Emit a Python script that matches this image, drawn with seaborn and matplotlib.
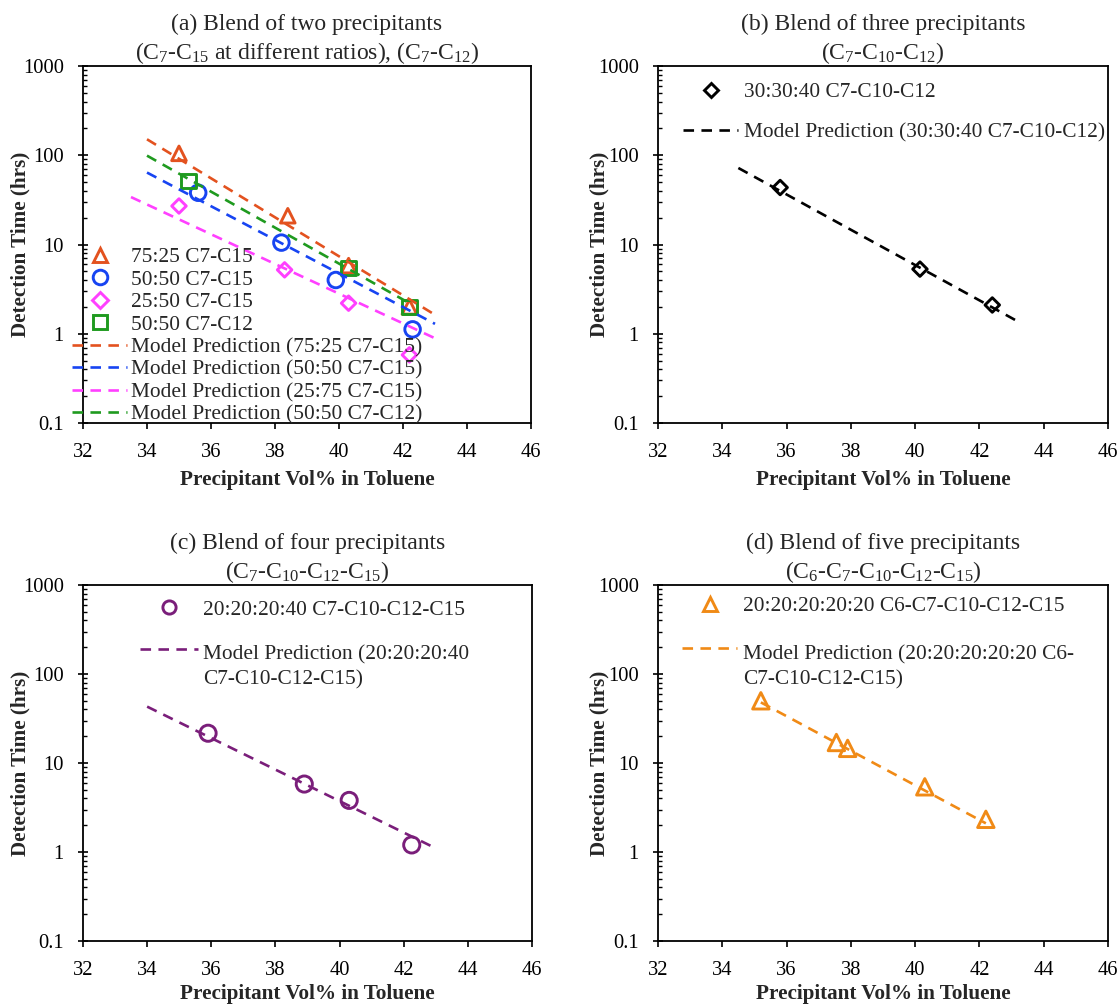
import numpy as np
import pandas as pd
import matplotlib
matplotlib.use("Agg")
import matplotlib.pyplot as plt
import seaborn as sns
from matplotlib.lines import Line2D
from matplotlib.ticker import FixedLocator, FuncFormatter, LogLocator, NullFormatter
from matplotlib.legend_handler import HandlerLine2D

# ---------------- data ----------------
# (a) two-precipitant blends
a_x_7525 = [35.0, 38.4, 40.3, 42.2]
a_y_7525 = [105, 21, 5.8, 2.0]
a_x_5050 = [35.6, 38.2, 39.9, 42.3]
a_y_5050 = [38, 10.5, 4.0, 1.12]
a_x_2575 = [35.0, 38.3, 40.3, 42.2]
a_y_2575 = [27, 5.2, 2.2, 0.58]
a_x_c12 = [35.3, 40.3, 42.2]
a_y_c12 = [51, 5.4, 2.0]

a_mx_7525 = [34.0, 43.0]
a_my_7525 = [151, 1.63]
a_mx_5050 = [34.0, 43.0]
a_my_5050 = [64, 1.29]
a_mx_2575 = [33.5, 43.0]
a_my_2575 = [34, 0.89]
a_mx_c12 = [34.0, 42.3]
a_my_c12 = [99, 2.1]

# (b) three-precipitant blend
b_x = [35.8, 40.15, 42.4]
b_y = [43.5, 5.3, 2.1]
b_mx = [34.5, 43.3]
b_my = [72, 1.31]

# (c) four-precipitant blend
c_x = [35.9, 38.9, 40.3, 42.25]
c_y = [21.6, 5.8, 3.8, 1.2]
c_mx = [34.0, 43.0]
c_my = [43, 1.1]

# (d) five-precipitant blend
d_x = [35.2, 37.55, 37.9, 40.3, 42.2]
d_y = [50, 17, 14.6, 5.4, 2.33]
d_mx = [35.2, 42.2]
d_my = [48, 2.1]

x_ticks = [32, 34, 36, 38, 40, 42, 44, 46]
y_ticks = [0.1, 1, 10, 100, 1000]

titles = [
    "(a) Blend of two precipitants\n(C$_{7}$-C$_{15}$ at different ratios), (C$_{7}$-C$_{12}$)",
    "(b) Blend of three precipitants\n(C$_{7}$-C$_{10}$-C$_{12}$)",
    "(c) Blend of four precipitants\n(C$_{7}$-C$_{10}$-C$_{12}$-C$_{15}$)",
    "(d) Blend of five precipitants\n(C$_{6}$-C$_{7}$-C$_{10}$-C$_{12}$-C$_{15}$)",
]

# ---------------- style ----------------
sns.set_style("ticks")
plt.rcParams["font.family"] = ["Liberation Serif", "DejaVu Serif"]
plt.rcParams["mathtext.fontset"] = "custom"
plt.rcParams["mathtext.rm"] = "Liberation Serif"
plt.rcParams["mathtext.it"] = "Liberation Serif:italic"
plt.rcParams["mathtext.default"] = "regular"

RED = "#E3521F"
BLUE = "#1744F2"
PINK = "#FF40FF"
GREEN = "#1F9A1F"
BLACK = "#000000"
PURPLE = "#7A1E7A"
ORANGE = "#F08A16"

FS = 15.4        # legend text
TFS = 14.8       # tick labels
DASH = (0, (4, 2.8))
LW = 1.9
MEW = 2.1

fig = plt.figure(figsize=(11.2, 10.06), dpi=100)
positions = [
    [83 / 1120, 1 - 423 / 1006, 448 / 1120, 357 / 1006],
    [658 / 1120, 1 - 423 / 1006, 450 / 1120, 357 / 1006],
    [83 / 1120, 1 - 941 / 1006, 449 / 1120, 356 / 1006],
    [658 / 1120, 1 - 941 / 1006, 450 / 1120, 356 / 1006],
]
axes = [fig.add_axes(p) for p in positions]


def points(ax, xs, ys, marker, color, size):
    df = pd.DataFrame({"x": xs, "y": ys})
    sns.scatterplot(data=df, x="x", y="y", ax=ax, marker=marker, s=size,
                    facecolors="none", edgecolors=color, linewidths=MEW,
                    legend=False, zorder=3)


def model(ax, xs, ys, color):
    df = pd.DataFrame({"x": xs, "y": ys})
    sns.lineplot(data=df, x="x", y="y", ax=ax, color=color, lw=LW,
                 linestyle=DASH, legend=False, zorder=4)


def style_axes(ax, title, ylab_x, xlab_pad):
    ax.set_yscale("log")
    ax.set_xlim(32, 46)
    ax.set_ylim(0.1, 1000)
    ax.xaxis.set_major_locator(FixedLocator(x_ticks))
    ax.yaxis.set_major_locator(FixedLocator(y_ticks))
    ax.yaxis.set_major_formatter(FuncFormatter(lambda v, _: f"{v:g}"))
    ax.yaxis.set_minor_locator(LogLocator(base=10, subs=np.arange(2, 10)))
    ax.yaxis.set_minor_formatter(NullFormatter())
    ax.xaxis.set_minor_locator(FixedLocator([]))
    ax.tick_params(axis="x", which="major", direction="out", length=4.5,
                   width=1.2, pad=10, labelsize=TFS, color="black",
                   labelcolor="black")
    ax.tick_params(axis="y", which="major", direction="inout", length=7.5,
                   width=1.2, pad=10, labelsize=TFS, color="black",
                   labelcolor="black")
    ax.tick_params(axis="y", which="minor", direction="in", length=3,
                   width=1.0, color="black")
    for s in ax.spines.values():
        s.set_visible(True)
        s.set_color("black")
        s.set_linewidth(1.3)
    ax.set_xlabel("Precipitant Vol% in Toluene", fontsize=15.25,
                  fontweight="bold", labelpad=xlab_pad)
    ax.set_ylabel("Detection Time (hrs)", fontsize=15.25, fontweight="bold")
    ax.yaxis.set_label_coords(ylab_x, 0.5)
    ax.set_title(title, fontsize=17, pad=4, linespacing=1.28)


class HandlerFirstLine(HandlerLine2D):
    """Line handle aligned with the first line of a two-line label."""

    def __init__(self, shift, **kw):
        super().__init__(**kw)
        self.shift = shift

    def create_artists(self, legend, orig_handle, xdescent, ydescent,
                       width, height, fontsize, trans):
        return super().create_artists(legend, orig_handle, xdescent,
                                      ydescent - 2 * self.shift * fontsize,
                                      width, height, fontsize, trans)


def mk(marker, color, ms):
    return Line2D([], [], marker=marker, ls="none", mfc="none", mec=color,
                  mew=MEW, ms=ms)


def ln(color):
    return Line2D([], [], color=color, lw=LW, ls=DASH)


# ---------------- (a) ----------------
ax = axes[0]
points(ax, a_x_7525, a_y_7525, "^", RED, 110)
points(ax, a_x_5050, a_y_5050, "o", BLUE, 125)
points(ax, a_x_2575, a_y_2575, "D", PINK, 55)
points(ax, a_x_c12, a_y_c12, "s", GREEN, 105)
model(ax, a_mx_7525, a_my_7525, RED)
model(ax, a_mx_5050, a_my_5050, BLUE)
model(ax, a_mx_2575, a_my_2575, PINK)
model(ax, a_mx_c12, a_my_c12, GREEN)
style_axes(ax, titles[0], -0.118, 6)
handles = [mk("^", RED, 10), mk("o", BLUE, 10.5), mk("D", PINK, 8),
           mk("s", GREEN, 10), ln(RED), ln(BLUE), ln(PINK), ln(GREEN)]
labels = ["75:25 C7-C15", "50:50 C7-C15", "25:50 C7-C15", "50:50 C7-C12",
          "Model Prediction (75:25 C7-C15)", "Model Prediction (50:50 C7-C15)",
          "Model Prediction (25:75 C7-C15)", "Model Prediction (50:50 C7-C12)"]
ax.legend(handles, labels, loc="lower left", bbox_to_anchor=(-0.025, -0.005),
          frameon=False, fontsize=FS, borderpad=0, borderaxespad=0,
          labelspacing=0.12, handlelength=2.6, handletextpad=0.18)

# ---------------- (b) ----------------
ax = axes[1]
points(ax, b_x, b_y, "D", BLACK, 55)
model(ax, b_mx, b_my, BLACK)
style_axes(ax, titles[1], -0.108, 6)
ax.legend([mk("D", BLACK, 7), ln(BLACK)],
          ["30:30:40 C7-C10-C12", "Model Prediction (30:30:40 C7-C10-C12)"],
          loc="upper left", bbox_to_anchor=(0.055, 0.955), frameon=False,
          fontsize=FS, borderpad=0, borderaxespad=0, labelspacing=0.95,
          handlelength=2.6, handletextpad=0.25)

# ---------------- (c) ----------------
ax = axes[2]
points(ax, c_x, c_y, "o", PURPLE, 135)
model(ax, c_mx, c_my, PURPLE)
style_axes(ax, titles[2], -0.118, 3)
c_line = ln(PURPLE)
leg = ax.legend([mk("o", PURPLE, 9.5), c_line],
                ["20:20:20:40 C7-C10-C12-C15",
                 "Model Prediction (20:20:20:40\nC7-C10-C12-C15)"],
                loc="upper left", bbox_to_anchor=(0.127, 0.958), frameon=False,
                fontsize=FS, borderpad=0, borderaxespad=0, labelspacing=1.2,
                handlelength=2.7, handletextpad=0.25,
                handler_map={c_line: HandlerFirstLine(0.85)})
for t in leg.get_texts():
    t.set_linespacing(1.4)

# ---------------- (d) ----------------
ax = axes[3]
points(ax, d_x, d_y, "^", ORANGE, 140)
model(ax, d_mx, d_my, ORANGE)
style_axes(ax, titles[3], -0.108, 3)
d_line = ln(ORANGE)
leg = ax.legend([mk("^", ORANGE, 9.5), d_line],
                ["20:20:20:20:20 C6-C7-C10-C12-C15",
                 "Model Prediction (20:20:20:20:20 C6-\nC7-C10-C12-C15)"],
                loc="upper left", bbox_to_anchor=(0.053, 0.968), frameon=False,
                fontsize=FS, borderpad=0, borderaxespad=0, labelspacing=1.35,
                handlelength=2.6, handletextpad=0.25,
                handler_map={d_line: HandlerFirstLine(0.88)})
for t in leg.get_texts():
    t.set_linespacing(1.4)

fig.savefig("out.png", dpi=100, facecolor="white")
